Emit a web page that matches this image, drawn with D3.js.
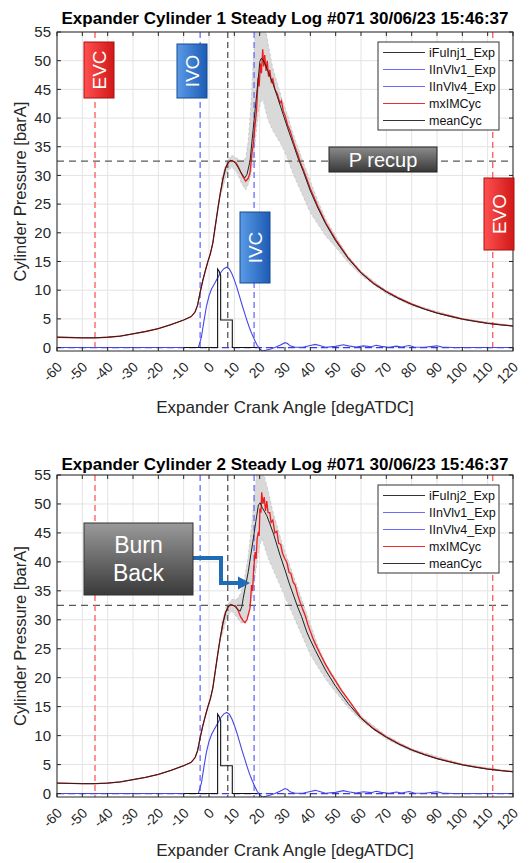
<!DOCTYPE html>
<html><head><meta charset="utf-8">
<script src="https://cdn.jsdelivr.net/npm/d3@7"></script>
<style>body{margin:0;background:#fff}svg{display:block}text{font-family:"Liberation Sans",Arial,Helvetica,sans-serif}</style>
</head><body><svg id="c" width="530" height="863"></svg>
<script>
// ---------- DATA ----------
const xTicks = [-60,-50,-40,-30,-20,-10,0,10,20,30,40,50,60,70,80,90,100,110,120];
const yTicks = [0,5,10,15,20,25,30,35,40,45,50,55];
const titles = ["Expander Cylinder 1 Steady Log #071 30/06/23 15:46:37",
                "Expander Cylinder 2 Steady Log #071 30/06/23 15:46:37"];
const legendNames1 = ["iFuInj1_Exp","IInVlv1_Exp","IInVlv4_Exp","mxIMCyc","meanCyc"];
const legendNames2 = ["iFuInj2_Exp","IInVlv1_Exp","IInVlv4_Exp","mxIMCyc","meanCyc"];
const xLabel = "Expander Crank Angle [degATDC]";
const yLabel = "Cylinder Pressure [barA]";
const valveEvents = {EVC:-45, IVO:-3.5, INJ:7.4, IVC:17.8, EVO:112};
const pRecup = 32.5;

// compression (shared)
const compression = [[-60,1.8],[-55,1.75],[-50,1.7],[-45,1.7],[-40,1.8],[-35,2.0],[-30,2.4],[-25,2.8],[-20,3.3],[-15,4.0],[-10,4.8],[-7,5.4],[-5.5,6.2],[-4.5,7.4],[-3.5,9.6],[-2.5,11.6],[-1.5,13.3],[-0.5,14.9],[0.5,16.3],[1.5,18.2],[2.5,21.2],[3.5,24.2],[4.5,27],[5.5,29.4],[6.5,31.2],[7.5,32.2],[8.5,32.6],[9.5,32.5]];
const tail = [[60,13],[65,11.1],[70,9.7],[75,8.5],[80,7.5],[85,6.7],[90,6.0],[95,5.45],[100,4.95],[105,4.55],[110,4.2],[115,3.95],[120,3.75]];
const tailRed = [[60,13.1],[65,11.2],[70,9.8],[75,8.6],[80,7.6],[85,6.75],[90,6.05],[95,5.5],[100,5.0],[105,4.6],[110,4.25],[115,3.98],[120,3.78]];

const meanExp1 = [[10.5,32.1],[11.5,31.4],[12.5,30.6],[13.5,29.9],[14.2,29.6],[15,30.2],[16.2,32.5],[17.5,38.3],[18.8,44.1],[20.1,49.9],[20.6,50.4],[21.3,50.2],[22,49.5],[22.8,48.7],[24,47.3],[25.4,45.8],[27,43.7],[29.3,40.6],[31,38.3],[33.3,35.4],[35,33.2],[37.2,30.7],[40,27.3],[43,24.3],[46,21.6],[50,18.6],[55,15.5]];
const redExp1 = [[10.5,32.3],[11.5,31.6],[12.5,30.6],[13.5,29.7],[14.5,29.0],[15.5,29.5],[16.2,30.5],[17,34],[17.5,35.5],[18,38],[18.8,41.5],[19.4,47],[19.8,45.5],[20.3,49.5],[20.7,47.8],[21.2,52],[21.6,49],[22,51],[22.5,48.2],[23,50],[23.5,47.2],[24,48.4],[24.6,46.3],[25.2,46.8],[26,45],[27,44.2],[28,42.6],[28.6,43],[29.3,41.2],[30,40.5],[31,38.8],[32,37.8],[33.3,35.9],[34.5,34.3],[35,33.8],[36,32.3],[37.2,31.1],[38.5,29.5],[40,27.7],[43,24.6],[46,21.8],[50,18.8],[55,15.6]];
const band1 = [[5,27,29.5],[7,30.5,32.5],[9,31.5,33.5],[11,30.5,33],[13,28.5,32.5],[14.5,27.5,33],[15.5,28.5,36],[16.5,30,42],[17.5,33,50],[18.5,37,56],[19.5,41,56],[20.5,43,56],[21.5,43,56],[22.5,41,55],[23.5,39.5,52.5],[25,38,49],[27,36.5,46],[29,35,43],[31,33,40.5],[33,30.5,37.5],[35,28.5,35],[37,26.5,32.5],[40,23.5,29],[43,21.5,25.5],[46,19.5,22.5],[50,17.5,19.4],[55,14.8,15.9],[60,12.6,13.3],[70,9.4,9.9],[80,7.3,7.6],[100,4.85,5.05],[120,3.7,3.8]];

const meanExp2 = [[10.5,32.2],[11.5,31.7],[12.3,31.5],[13,32.3],[13.5,33.7],[14.5,36],[15.5,38.3],[16.5,41.2],[17.5,44],[18.5,47],[19.5,49.8],[20.2,50.2],[21,49.4],[22,48.6],[22.8,48],[24,46.6],[25.5,44.8],[28,41.2],[30,38.6],[31.5,36.5],[33.3,34.3],[35,32.2],[36.5,30.6],[38.6,27.9],[40,26.5],[42,24.7],[46,21.3],[50,18.5],[55,15.5]];
const redExp2 = [[10.5,32.4],[11.5,31.6],[12.5,30.5],[13.5,29.8],[14.2,29.5],[15,30],[15.6,31],[16.2,32],[16.8,36],[17.2,35],[17.6,38.5],[18.2,41.7],[18.6,40.5],[19,44],[19.5,45.2],[19.8,44.5],[20.1,49.2],[20.5,48.5],[20.8,52],[21.3,50],[21.8,51.2],[22.3,48.8],[22.8,50.5],[23.3,48.5],[24,48.5],[24.5,46.8],[25.2,47.2],[26,45],[26.8,45.3],[27.5,43.2],[28.3,43],[29,41.5],[30,40.5],[30.8,39.8],[31.6,38.2],[32.3,38],[33.2,36.5],[34,36],[35,34.3],[36,33],[37,31.8],[38,30.7],[39,29.2],[40,28],[41,26.8],[42,25.8],[44,24],[46,22.3],[48,20.8],[50,19.4],[52,18],[55,16.2]];
const band2 = [[5,27,29.5],[7,30.5,32.5],[9,31.5,33.5],[11,30.5,33.5],[12.5,29.5,34.5],[14,29.5,37],[15.5,31,41],[17,34,47],[18,37,52],[19,40,55.5],[20,43,56],[21,44,56],[22,42.5,54.5],[23.5,40.5,52],[25,39,49],[27,37,46],[29,35,43],[31,33,40.5],[33,31,38],[35,29,35.5],[37,27,33],[40,24,29.2],[43,21.8,25.5],[46,19.8,22.5],[50,17.5,19.7],[55,14.8,16.1],[60,12.6,13.4],[70,9.4,10],[80,7.3,7.7],[100,4.85,5.1],[120,3.7,3.8]];

const injector = [[-10,0],[3.4,0],[3.4,13.7],[4.0,13.3],[4.6,12.6],[4.6,4.8],[9.2,4.8],[9.2,0],[19,0]];
const inletValve1 = [[-60,0],[-4.2,0],[-3,1.8],[-2,4.6],[-1,7.2],[0,9.0],[1,10.2],[2,11.0],[3,11.8],[4,12.6],[5,13.3],[6,13.8],[7,14.0],[8,13.7],[9,12.9],[10,11.8],[11,10.5],[12,9.0],[13,7.5],[14,6.1],[15,4.7],[16,3.4],[17,2.3],[18,1.3],[19,0.4],[20,-0.2],[21,-0.6],[22,-0.5],[24,-0.3],[26,0],[28,0.4],[30,0.85],[31,0.7],[32,0.3],[34,0.05],[37,0.05],[40,0.35],[42,0.55],[44,0.3],[46,0.05],[50,0.2],[53,0.5],[55,0.3],[58,0.1],[61,0.3],[64,0.15],[66,0.4],[68,0.2],[71,0.05],[74,0.25],[76,0.1],[79,0.35],[81,0.1],[85,0.05],[90,0.3],[92,0.1],[96,0],[120,0]];
const inletValve4 = [[-60,0],[120,0]];

// ---------- DRAW ----------
const svg = d3.select('#c');
const defs = svg.append('defs');
function grad(id, horiz, c1, c2){
  const g = defs.append('linearGradient').attr('id',id)
    .attr('x1',0).attr('y1',0).attr('x2',horiz?1:0).attr('y2',horiz?0:1);
  g.append('stop').attr('offset','0%').attr('stop-color',c1);
  g.append('stop').attr('offset','100%').attr('stop-color',c2);
}
grad('gRed', true, '#ff5050', '#d01818');
grad('gBlue', true, '#5a9ae6', '#1d5cb5');
grad('gGray', false, '#8c8c8c', '#383838');
grad('gGray2', false, '#9a9a9a', '#3a3a3a');

const panels = [
  {top:32, bottom:351, titleY:24, xTitleY:413, title:titles[0], legend:legendNames1, legendTop:42,
   mean:compression.concat(meanExp1, tail), red:compression.concat(redExp1, tailRed), band:band1, boxes:true},
  {top:475, bottom:797, titleY:470, xTitleY:856, title:titles[1], legend:legendNames2, legendTop:485,
   mean:compression.concat(meanExp2, tail), red:compression.concat(redExp2, tailRed), band:band2, boxes:false}
];
const L = 57, R = 513;
const x = d3.scaleLinear().domain([-60,120]).range([L,R]);

panels.forEach((p, i) => {
  const y = d3.scaleLinear().domain([-0.6,55]).range([p.bottom, p.top]);
  const g = svg.append('g');
  const clipId = 'clip'+i;
  defs.append('clipPath').attr('id',clipId).append('rect')
    .attr('x',L).attr('y',p.top).attr('width',R-L).attr('height',p.bottom-p.top);

  // grid
  g.append('g').selectAll('line').data(xTicks).join('line')
    .attr('x1',d=>x(d)).attr('x2',d=>x(d)).attr('y1',p.top).attr('y2',p.bottom)
    .attr('stroke','#e3e3e3').attr('stroke-width',1);
  g.append('g').selectAll('line').data(yTicks).join('line')
    .attr('y1',d=>y(d)).attr('y2',d=>y(d)).attr('x1',L).attr('x2',R)
    .attr('stroke','#e3e3e3').attr('stroke-width',1);

  const plot = g.append('g').attr('clip-path',`url(#${clipId})`);
  // band
  plot.append('path').datum(p.band)
    .attr('d', d3.area().x(d=>x(d[0])).y0(d=>y(d[1])).y1(d=>y(d[2])).curve(d3.curveLinear))
    .attr('fill','#d9d9d9').attr('stroke','#c4c4c4').attr('stroke-width',0.8).attr('stroke-dasharray','3,2');
  const line = d3.line().x(d=>x(d[0])).y(d=>y(d[1]));
  // reference dashed lines
  const vl = (v, col) => plot.append('line').attr('x1',x(v)).attr('x2',x(v)).attr('y1',p.top).attr('y2',p.bottom)
      .attr('stroke',col).attr('stroke-width',1.3).attr('stroke-dasharray','6,4');
  plot.append('line').attr('x1',L).attr('x2',R).attr('y1',y(pRecup)).attr('y2',y(pRecup))
      .attr('stroke','#5a5a5a').attr('stroke-width',1.2).attr('stroke-dasharray','7,5');
  vl(valveEvents.EVC,'#ff5a5a'); vl(valveEvents.EVO,'#ff5a5a');
  vl(valveEvents.IVO,'#6a6aff'); vl(valveEvents.IVC,'#6a6aff');
  vl(valveEvents.INJ,'#555555');
  // pressure lines
  plot.append('path').datum(p.red).attr('d',line).attr('fill','none').attr('stroke','#ee1c1c').attr('stroke-width',1.3);
  plot.append('path').datum(p.mean).attr('d',line).attr('fill','none').attr('stroke','#222').attr('stroke-width',1);
  // valve lift & injector
  plot.append('path').datum(inletValve4).attr('d',line).attr('fill','none').attr('stroke','#3a3ae0').attr('stroke-width',1.3).attr('stroke-dasharray','7,4');
  plot.append('path').datum(inletValve1).attr('d',line).attr('fill','none').attr('stroke','#4646e6').attr('stroke-width',1.1);
  plot.append('path').datum(injector).attr('d',line).attr('fill','none').attr('stroke','#111').attr('stroke-width',1.1);

  // frame & ticks
  g.append('rect').attr('x',L).attr('y',p.top).attr('width',R-L).attr('height',p.bottom-p.top)
    .attr('fill','none').attr('stroke','#262626').attr('stroke-width',1);
  const tk = 4;
  g.append('g').selectAll('path').data(xTicks).join('path')
    .attr('d',d=>`M${x(d)},${p.bottom}v${-tk}M${x(d)},${p.top}v${tk}`).attr('stroke','#262626');
  g.append('g').selectAll('path').data(yTicks).join('path')
    .attr('d',d=>`M${L},${y(d)}h${tk}M${R},${y(d)}h${-tk}`).attr('stroke','#262626');
  // tick labels
  g.append('g').selectAll('text').data(yTicks).join('text')
    .attr('x',L-6).attr('y',d=>y(d)).attr('dy','0.35em').attr('text-anchor','end')
    .attr('font-size',15).attr('fill','#262626').text(d=>d);
  g.append('g').selectAll('text').data(xTicks).join('text')
    .attr('transform',d=>`translate(${x(d)+6},${p.bottom+17}) rotate(-45)`)
    .attr('text-anchor','end').attr('font-size',14).attr('fill','#262626').text(d=>d);
  g.append('text').attr('x',(L+R)/2).attr('y',p.xTitleY).attr('text-anchor','middle')
    .attr('font-size',17).attr('fill','#262626').text(xLabel);
  g.append('text').attr('transform',`translate(26,${(p.top+p.bottom)/2}) rotate(-90)`)
    .attr('text-anchor','middle').attr('font-size',16.5).attr('fill','#262626').text(yLabel);
  g.append('text').attr('x',(L+R)/2).attr('y',p.titleY).attr('text-anchor','middle')
    .attr('font-size',17).attr('font-weight','bold').attr('fill','#000').text(p.title);

  // legend
  const lx = 378, lw = 121, lt = p.legendTop, lh = 88;
  const lg = g.append('g');
  lg.append('rect').attr('x',lx).attr('y',lt).attr('width',lw).attr('height',lh)
    .attr('fill','#fff').attr('stroke','#333').attr('stroke-width',1);
  const lcols = ['#333','#6b6bff','#6b6bff','#e83030','#333'];
  p.legend.forEach((name,k)=>{
    const yy = lt + 10.5 + k*17;
    lg.append('line').attr('x1',lx+5).attr('x2',lx+47).attr('y1',yy).attr('y2',yy)
      .attr('stroke',lcols[k]).attr('stroke-width',1.1);
    lg.append('text').attr('x',lx+51).attr('y',yy).attr('dy','0.35em')
      .attr('font-size',12.5).attr('fill','#111').text(name);
  });

  // annotations
  if (p.boxes) {
    const vbox = (label, cx, y0, y1, fill, stroke) => {
      g.append('rect').attr('x',cx-15).attr('y',y0).attr('width',30).attr('height',y1-y0)
        .attr('fill',`url(#${fill})`).attr('stroke',stroke).attr('stroke-width',1);
      g.append('text').attr('transform',`translate(${cx},${(y0+y1)/2}) rotate(-90)`)
        .attr('text-anchor','middle').attr('dy','0.36em').attr('font-size',19).attr('fill','#fff').text(label);
    };
    vbox('EVC', 99, 42, 98, 'gRed', '#a81010');
    vbox('IVO', 192, 44, 98, 'gBlue', '#174a90');
    vbox('IVC', 255, 212, 283, 'gBlue', '#174a90');
    vbox('EVO', 499, 178, 250, 'gRed', '#a81010');
    g.append('rect').attr('x',329).attr('y',147).attr('width',108).attr('height',25)
      .attr('fill','url(#gGray)').attr('stroke','#222');
    g.append('text').attr('x',383).attr('y',160).attr('dy','0.36em').attr('text-anchor','middle')
      .attr('font-size',20).attr('fill','#fff').text('P recup');
  } else {
    g.append('path').attr('d','M193,558H221V583H240').attr('fill','none')
      .attr('stroke','#1f6bb5').attr('stroke-width',4);
    g.append('path').attr('d','M250,583L238,576.5V589.5Z').attr('fill','#1f6bb5');
    g.append('rect').attr('x',84).attr('y',523).attr('width',109).attr('height',72)
      .attr('fill','url(#gGray2)').attr('stroke','#333');
    g.append('text').attr('x',138.5).attr('y',545).attr('dy','0.36em').attr('text-anchor','middle')
      .attr('font-size',23).attr('fill','#fff').text('Burn');
    g.append('text').attr('x',138.5).attr('y',573).attr('dy','0.36em').attr('text-anchor','middle')
      .attr('font-size',23).attr('fill','#fff').text('Back');
  }
});
</script></body></html>
